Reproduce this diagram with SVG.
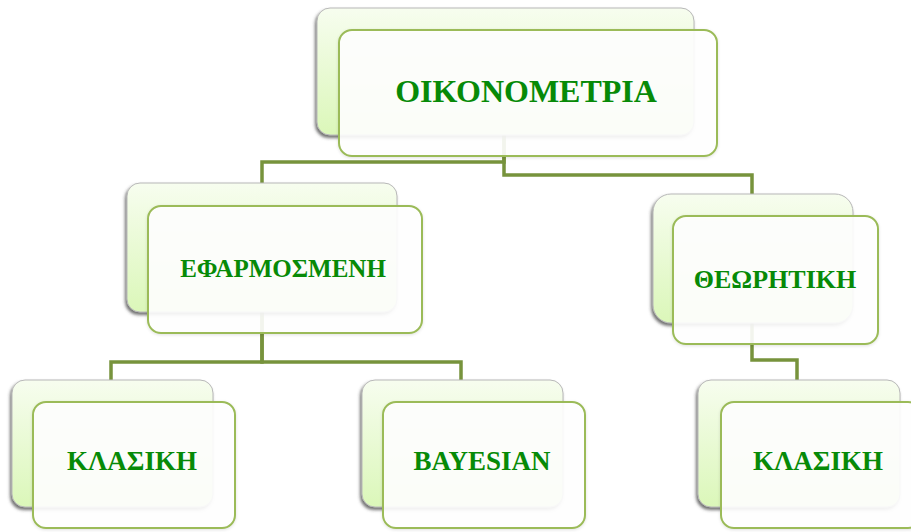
<svg xmlns="http://www.w3.org/2000/svg" width="911" height="532" viewBox="0 0 911 532">
<defs>
<linearGradient id="bg" x1="0" y1="0" x2="0" y2="1">
<stop offset="0" stop-color="#f7fdef"/>
<stop offset="1" stop-color="#dbf7b9"/>
</linearGradient>
<filter id="sh" x="-10%" y="-10%" width="120%" height="125%">
<feDropShadow dx="-1.5" dy="2.5" stdDeviation="1.5" flood-color="#404040" flood-opacity="0.75"/>
</filter>
<filter id="sh2" x="-10%" y="-10%" width="120%" height="125%">
<feDropShadow dx="0" dy="1" stdDeviation="1.5" flood-color="#000" flood-opacity="0.12"/>
</filter>
</defs>
<style>
.back{fill:url(#bg);stroke:#b8b8b8;stroke-width:1;filter:url(#sh)}
.front{fill:#ffffff;fill-opacity:0.9;stroke:#9bbb59;stroke-width:2;filter:url(#sh2)}
.lbl{font-family:"Liberation Serif","Times New Roman",serif;font-weight:bold;fill:#078a07;text-anchor:middle}
.con{fill:none;stroke:#77933c;stroke-width:3.5}
</style>
<rect width="911" height="532" fill="#ffffff"/>
<g id="connectors">
<path class="con" d="M504,135 V162 H262 V183"/>
<path class="con" d="M504,135 V175 H752 V194"/>
<path class="con" d="M262,312 V362 H111 V380"/>
<path class="con" d="M262,312 V362 H461 V380"/>
<path class="con" d="M752,323 V360 H797 V380"/>
</g>
<g id="node-root">
<rect class="back" x="317" y="8" width="377" height="127" rx="13"/>
<rect class="front" x="339" y="30" width="378" height="126" rx="13"/>
<text class="lbl" x="526" y="102" font-size="32">ΟΙΚΟΝΟΜΕΤΡΙΑ</text>
</g>
<g id="node-efarmosmeni">
<rect class="back" x="127" y="183" width="270" height="129" rx="13"/>
<rect class="front" x="148" y="206" width="274" height="127" rx="13"/>
<text class="lbl" x="283" y="277" font-size="25">ΕΦΑΡΜΟΣΜΕΝΗ</text>
</g>
<g id="node-theoritiki">
<rect class="back" x="653" y="194" width="200" height="129" rx="18"/>
<rect class="front" x="673" y="216" width="205" height="128" rx="13"/>
<text class="lbl" x="775" y="288" font-size="26">ΘΕΩΡΗΤΙΚΗ</text>
</g>
<g id="node-klasiki-1">
<rect class="back" x="12" y="380" width="201" height="127" rx="13"/>
<rect class="front" x="33" y="402" width="202" height="126" rx="13"/>
<text class="lbl" x="132" y="470" font-size="27">ΚΛΑΣΙΚΗ</text>
</g>
<g id="node-bayesian">
<rect class="back" x="362" y="380" width="201" height="127" rx="13"/>
<rect class="front" x="383" y="402" width="202" height="126" rx="13"/>
<text class="lbl" x="482" y="470" font-size="27">BAYESIAN</text>
</g>
<g id="node-klasiki-2">
<rect class="back" x="698" y="380" width="202" height="127" rx="13"/>
<rect class="front" x="721" y="402" width="200" height="126" rx="13"/>
<text class="lbl" x="818" y="470" font-size="27">ΚΛΑΣΙΚΗ</text>
</g>
</svg>
